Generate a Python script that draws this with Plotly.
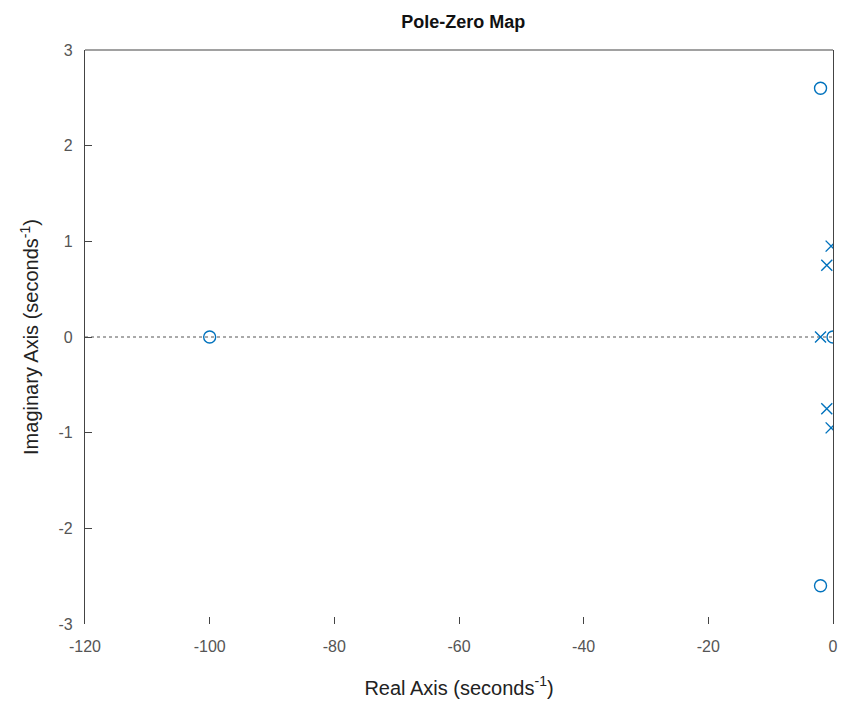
import plotly.graph_objects as go

pole_re = [-0.3, -0.3, -1.0, -1.0, -2.0]
pole_im = [0.95, -0.95, 0.75, -0.75, 0.0]
zero_re = [-100.0, 0.0, -2.0, -2.0]
zero_im = [0.0, 0.0, 2.6, -2.6]
x_ticks = [-120, -100, -80, -60, -40, -20, 0]
y_ticks = [-3, -2, -1, 0, 1, 2, 3]

blue = "#0072BD"
fig = go.Figure()
fig.add_trace(go.Scatter(x=[x_ticks[0], x_ticks[-1]], y=[0, 0], mode="lines",
                         line=dict(color="#555555", width=1, dash="dot"), showlegend=False))
fig.add_trace(go.Scatter(x=pole_re, y=pole_im, mode="markers",
                         marker=dict(symbol="x-thin-open", size=11, color=blue,
                                     line=dict(color=blue, width=1.4)), showlegend=False))
fig.add_trace(go.Scatter(x=zero_re, y=zero_im, mode="markers",
                         marker=dict(symbol="circle-open", size=12, color=blue,
                                     line=dict(color=blue, width=1.4)), showlegend=False))

font = "Liberation Sans, Arial, sans-serif"
fig.update_layout(
    width=850, height=711,
    margin=dict(l=85, r=12, t=50, b=87),
    paper_bgcolor="white", plot_bgcolor="white",
    font=dict(family=font, color="#404040"),
    title=dict(text="<b>Pole-Zero Map</b>", x=0.545, xanchor="center", y=0.978, yanchor="top",
               font=dict(size=18, color="#111111", family=font)),
    xaxis=dict(range=[-120, 0], tickvals=x_ticks, ticktext=[str(v) for v in x_ticks],
               showgrid=False, zeroline=False,
               showline=False, ticks="inside", ticklen=7, tickcolor="#444444",
               ticklabelstandoff=11,
               tickfont=dict(size=16, color="#555555"),
               title=dict(text="Real Axis (seconds<sup>-1</sup>)", font=dict(size=20, color="#222222"),
                          standoff=26)),
    yaxis=dict(range=[-3, 3], tickvals=y_ticks, ticktext=[str(v) for v in y_ticks],
               showgrid=False, zeroline=False,
               showline=True, mirror=True, linecolor="#444444", linewidth=1.2,
               ticks="inside", ticklen=7, tickcolor="#444444",
               ticklabelstandoff=8,
               tickfont=dict(size=16, color="#555555"),
               title=dict(text="Imaginary Axis (seconds<sup>-1</sup>)", font=dict(size=20, color="#222222"),
                          standoff=14)),
)
fig.add_shape(type="line", xref="x domain", yref="y domain", x0=0, x1=1, y0=1, y1=1,
              line=dict(color="#444444", width=1.2))
fig.write_html("out.html")
